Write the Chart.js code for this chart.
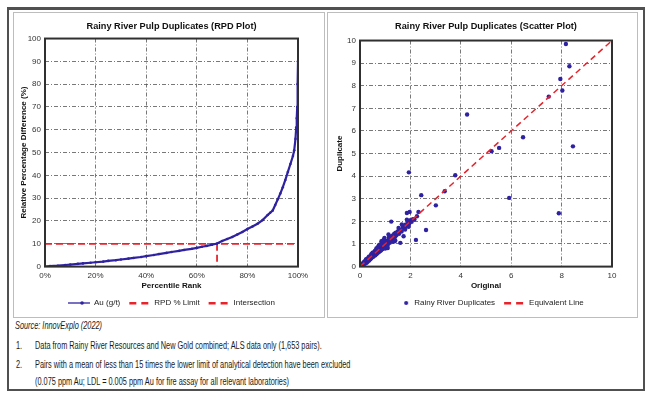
<!DOCTYPE html>
<html>
<head>
<meta charset="utf-8">
<script src="https://cdn.jsdelivr.net/npm/chart.js@4.4.0/dist/chart.umd.min.js"></script>
<style>
  body { margin: 0; background: #fff; width: 651px; height: 394px; position: relative; overflow: hidden; }
  #frame { position: absolute; left: 7px; top: 7px; width: 634px; height: 379px; border: 2px solid #505050; border-top-width: 3px; }
  .panel { position: absolute; top: 12px; height: 304px; border: 1px solid #bdbdbd; }
  #p1 { left: 13px; width: 310px; }
  #p2 { left: 327px; width: 309px; }
  .panel canvas { position: absolute; left: 0; top: 0; }
  .note { position: absolute; font-family: "Liberation Sans", Arial, sans-serif; font-size: 10px; color: #1a1a1a; white-space: nowrap;
          transform: scaleX(0.735); transform-origin: 0 0; }
</style>
</head>
<body>
<div id="frame"></div>
<div class="panel" id="p1"><canvas id="rpd" width="310" height="304"></canvas></div>
<div class="panel" id="p2"><canvas id="sc" width="309" height="304"></canvas></div>
<div class="note" style="left:15px;top:320px;font-style:italic">Source: InnovExplo (2022)</div>
<div class="note" style="left:16px;top:340px">1.</div>
<div class="note" style="left:35px;top:340px">Data from Rainy River Resources and New Gold combined; ALS data only (1,653 pairs).</div>
<div class="note" style="left:16px;top:359px">2.</div>
<div class="note" style="left:35px;top:359px">Pairs with a mean of less than 15 times the lower limit of analytical detection have been excluded</div>
<div class="note" style="left:35px;top:376px">(0.075 ppm Au; LDL = 0.005 ppm Au for fire assay for all relevant laboratories)</div>
<script>
// RPD plot: percentile rank (%) vs relative percentage difference (%)
const pctRank = [0, 2, 5, 8, 10, 13, 15, 18, 20, 23, 25, 28, 30, 33, 35, 38, 40, 43, 45, 48, 50, 53, 55, 58, 60, 62, 64, 66, 68, 70, 72, 74, 76, 78, 80, 82, 84, 86, 88, 89, 90, 91, 92, 93, 94, 95, 96, 97, 98, 98.5, 99, 99.3, 99.5, 99.7, 99.85, 100];
const rpdVals = [0, 0.2, 0.4, 0.7, 0.9, 1.2, 1.4, 1.7, 1.9, 2.2, 2.5, 2.8, 3.1, 3.5, 3.8, 4.2, 4.6, 5.1, 5.5, 6.0, 6.4, 6.9, 7.3, 7.8, 8.2, 8.7, 9.1, 9.6, 10.1, 11.2, 12.1, 13.0, 14.1, 15.2, 16.5, 17.6, 18.8, 20.4, 22.6, 23.6, 24.6, 27.0, 29.5, 32.0, 34.8, 38.0, 41.5, 45.0, 48.5, 51.0, 56.0, 61.0, 65.0, 70.0, 80.0, 90.0];
const rpdLimit = 10;
const intersectRank = 68;

// Scatter plot: original vs duplicate (g/t Au)
const origVals = [
  0.02, 0.03, 0.04, 0.05, 0.06, 0.07, 0.08, 0.09, 0.1, 0.1, 0.11, 0.12, 0.13, 0.14, 0.15, 0.16, 0.17, 0.18, 0.19, 0.2,
  0.21, 0.22, 0.23, 0.24, 0.25, 0.26, 0.27, 0.28, 0.29, 0.3, 0.3, 0.31, 0.32, 0.33, 0.34, 0.35, 0.36, 0.37, 0.38, 0.39,
  0.4, 0.41, 0.42, 0.43, 0.44, 0.45, 0.46, 0.47, 0.48, 0.49, 0.5, 0.51, 0.52, 0.53, 0.54, 0.55, 0.56, 0.57, 0.58, 0.59,
  0.6, 0.61, 0.62, 0.63, 0.64, 0.65, 0.66, 0.67, 0.68, 0.69, 0.7, 0.71, 0.72, 0.73, 0.74, 0.75, 0.76, 0.77, 0.78, 0.79,
  0.8, 0.81, 0.82, 0.83, 0.84, 0.85, 0.86, 0.87, 0.88, 0.89, 0.9, 0.91, 0.92, 0.93, 0.94, 0.95, 0.96, 0.97, 0.98, 0.99,
  1.0, 1.01, 1.02, 1.03, 1.05, 1.08, 1.1, 1.12, 1.15, 1.18, 1.2, 1.22, 1.25, 1.28, 1.3, 1.33, 1.36, 1.4, 1.42, 1.45,
  1.5, 1.55, 1.6, 1.65, 1.7, 1.75, 1.8, 1.85, 1.9, 1.95, 2.0, 2.05, 2.1,
  0.85, 0.95, 1.0, 1.1, 1.15, 0.75, 0.9, 1.3, 1.4, 0.6, 0.55, 0.7, 0.45, 0.35, 0.25, 0.5, 0.65, 0.8,
  1.6, 1.73, 1.37, 1.13, 0.97, 1.24, 1.46, 1.53, 1.66, 1.79, 1.93, 1.86, 1.86, 1.97, 2.16, 2.26, 2.32, 2.22, 2.62,
  1.94, 2.43, 3.01, 3.36, 3.78, 5.92, 7.89, 5.22, 5.52, 6.47, 8.45, 4.25, 7.49, 8.03, 7.95, 8.31, 8.17
];
const dupVals = [
  0.02, 0.05, 0.02, 0.04, 0.08, 0.1, 0.07, 0.06, 0.12, 0.05, 0.14, 0.09, 0.11, 0.15, 0.2, 0.11, 0.2, 0.13, 0.16, 0.22,
  0.26, 0.18, 0.15, 0.3, 0.2, 0.28, 0.18, 0.25, 0.32, 0.35, 0.22, 0.25, 0.28, 0.36, 0.4, 0.3, 0.27, 0.45, 0.33, 0.38,
  0.42, 0.32, 0.36, 0.46, 0.5, 0.38, 0.4, 0.55, 0.42, 0.48, 0.52, 0.58, 0.44, 0.6, 0.46, 0.5, 0.55, 0.65, 0.52, 0.62,
  0.58, 0.5, 0.7, 0.55, 0.68, 0.62, 0.56, 0.75, 0.6, 0.72, 0.68, 0.62, 0.8, 0.63, 0.78, 0.72, 0.66, 0.85, 0.7, 0.82,
  0.76, 0.7, 0.9, 0.72, 0.88, 0.82, 0.76, 0.95, 0.78, 0.92, 0.88, 0.8, 1.0, 0.84, 0.97, 0.92, 0.85, 1.05, 0.88, 1.02,
  0.98, 0.92, 1.1, 0.9, 1.0, 1.15, 0.96, 1.08, 1.2, 1.05, 1.25, 1.12, 1.35, 1.2, 1.38, 1.25, 1.45, 1.32, 1.5, 1.4,
  1.55, 1.45, 1.62, 1.55, 1.75, 1.68, 1.85, 1.78, 1.95, 1.88, 2.05, 1.98, 2.1,
  1.12, 1.2, 0.8, 0.82, 1.3, 0.95, 1.15, 1.1, 1.15, 0.7, 0.62, 0.86, 0.55, 0.42, 0.33, 0.62, 0.8, 0.98,
  1.05, 1.34, 1.12, 1.42, 1.27, 1.99, 1.49, 1.71, 1.86, 1.64, 1.76, 2.08, 2.37, 2.42, 2.08, 2.23, 2.42, 1.18, 1.62,
  4.17, 3.16, 2.71, 3.33, 4.04, 3.04, 2.36, 5.1, 5.25, 5.72, 5.32, 6.73, 7.52, 7.79, 8.3, 8.86, 9.85
];
const equivLine = [0, 10];

const BLUE = '#2f22a0';
const RED = '#e8232b';
const tickFont = { family: 'Liberation Sans, Arial, sans-serif', size: 8 };
const boldFont = { family: 'Liberation Sans, Arial, sans-serif', size: 8, weight: 'bold' };

// box around the plot area; title and legend centred over the plot area
const frameBox = {
  id: 'frameBox',
  afterLayout(chart) {
    const a = chart.chartArea;
    [chart.titleBlock, chart.legend].forEach(b => { if (b) { b.left = a.left; b.right = a.right; } });
  },
  afterDatasetsDraw(chart) {
    const a = chart.chartArea, ctx = chart.ctx;
    ctx.save();
    ctx.strokeStyle = '#303030';
    ctx.lineWidth = 2;
    ctx.strokeRect(a.left, a.top, a.right - a.left, a.bottom - a.top);
    ctx.restore();
  }
};

function legendIcon(kind) {
  const c = document.createElement('canvas');
  c.width = 22; c.height = 8;
  const g = c.getContext('2d');
  if (kind === 'line') {
    g.strokeStyle = BLUE; g.lineWidth = 1.3;
    g.beginPath(); g.moveTo(0, 4); g.lineTo(22, 4); g.stroke();
    g.fillStyle = BLUE; g.beginPath(); g.arc(14, 4, 1.8, 0, Math.PI * 2); g.fill();
  } else if (kind === 'dash') {
    g.fillStyle = RED;
    g.fillRect(1, 3, 7, 2.5); g.fillRect(13, 3, 7, 2.5);
  } else {
    g.fillStyle = BLUE; g.beginPath(); g.arc(18, 4, 2, 0, Math.PI * 2); g.fill();
  }
  return c;
}

const icons = {
  'Au (g/t)': legendIcon('line'),
  'RPD % Limit': legendIcon('dash'),
  'Intersection': legendIcon('dash'),
  'Rainy River Duplicates': legendIcon('dot'),
  'Equivalent Line': legendIcon('dash')
};

function legendOpts() {
  return {
    position: 'bottom',
    labels: { usePointStyle: true, pointStyleWidth: 22, color: '#222', font: tickFont, padding: 8,
      generateLabels(chart) {
        return chart.data.datasets.map((d, i) => ({ text: d.label, pointStyle: icons[d.label], datasetIndex: i,
          fontColor: '#222', lineWidth: 0, strokeStyle: 'transparent', fillStyle: 'transparent' }));
      } }
  };
}

function axisX(min, max, step, label, fmt) {
  return { type: 'linear', min: min, max: max,
    ticks: { stepSize: step, color: '#333', font: tickFont, padding: 4, callback: fmt },
    grid: { color: '#555', lineWidth: 0.8, drawTicks: false }, border: { display: false, dash: [4, 2, 1, 2] },
    title: { display: true, text: label, color: '#111', font: boldFont, padding: { top: 0, bottom: 0 } },
    afterFit(s) { s.height = 24.4; } };
}

function axisY(min, max, step, label, w, pad) {
  return { min: min, max: max,
    ticks: { stepSize: step, color: '#333', font: tickFont, padding: 4 },
    grid: { color: '#555', lineWidth: 0.8, drawTicks: false }, border: { display: false, dash: [4, 2, 1, 2] },
    title: { display: true, text: label, color: '#111', font: boldFont, padding: { top: pad, bottom: 0 } },
    afterFit(s) { s.width = w; } };
}

new Chart(document.getElementById('rpd'), {
  type: 'scatter',
  data: {
    datasets: [
      {
        label: 'Au (g/t)',
        data: pctRank.map((p, i) => ({ x: p, y: rpdVals[i] })),
        showLine: true, borderColor: BLUE, borderWidth: 2.2, pointRadius: 1.3,
        pointBackgroundColor: BLUE, pointBorderWidth: 0, order: 1
      },
      {
        label: 'RPD % Limit',
        data: [{ x: 0, y: rpdLimit }, { x: 100, y: rpdLimit }],
        showLine: true, borderColor: RED, borderWidth: 1.8, borderDash: [7, 4], pointRadius: 0, order: 2
      },
      {
        label: 'Intersection',
        data: [{ x: intersectRank, y: rpdLimit }, { x: intersectRank, y: 0 }],
        showLine: true, borderColor: RED, borderWidth: 1.8, borderDash: [7, 4], pointRadius: 0, order: 3
      }
    ]
  },
  options: {
    responsive: false, animation: false, devicePixelRatio: 1,
    layout: { padding: { left: 0, right: 26, top: 0, bottom: 0 } },
    plugins: {
      title: { display: true, text: 'Rainy River Pulp Duplicates (RPD Plot)', color: '#111',
        font: { family: 'Liberation Sans, Arial, sans-serif', size: 9.2, weight: 'bold' }, padding: { top: 8, bottom: 6.5 } },
      legend: legendOpts(),
      tooltip: { enabled: false }
    },
    scales: {
      x: axisX(0, 100, 20, 'Percentile Rank', v => v + '%'),
      y: axisY(0, 100, 10, 'Relative Percentage Difference (%)', 31, 5)
    }
  },
  plugins: [frameBox]
});

new Chart(document.getElementById('sc'), {
  type: 'scatter',
  data: {
    datasets: [
      {
        label: 'Rainy River Duplicates',
        data: origVals.map((v, i) => ({ x: v, y: dupVals[i] })),
        backgroundColor: BLUE, borderWidth: 0, pointRadius: 2.2, order: 2
      },
      {
        label: 'Equivalent Line',
        data: equivLine.map(v => ({ x: v, y: v })),
        showLine: true, borderColor: RED, borderWidth: 1.5, borderDash: [6, 4], pointRadius: 0, order: 1
      }
    ]
  },
  options: {
    responsive: false, animation: false, devicePixelRatio: 1,
    layout: { padding: { left: 0, right: 25, top: 0, bottom: 0 } },
    plugins: {
      title: { display: true, text: 'Rainy River Pulp Duplicates (Scatter Plot)', color: '#111',
        font: { family: 'Liberation Sans, Arial, sans-serif', size: 9.2, weight: 'bold' }, padding: { top: 8, bottom: 8.5 } },
      legend: legendOpts(),
      tooltip: { enabled: false }
    },
    scales: {
      x: axisX(0, 10, 2, 'Original'),
      y: axisY(0, 10, 1, 'Duplicate', 32, 7)
    }
  },
  plugins: [frameBox]
});
</script>
</body>
</html>
